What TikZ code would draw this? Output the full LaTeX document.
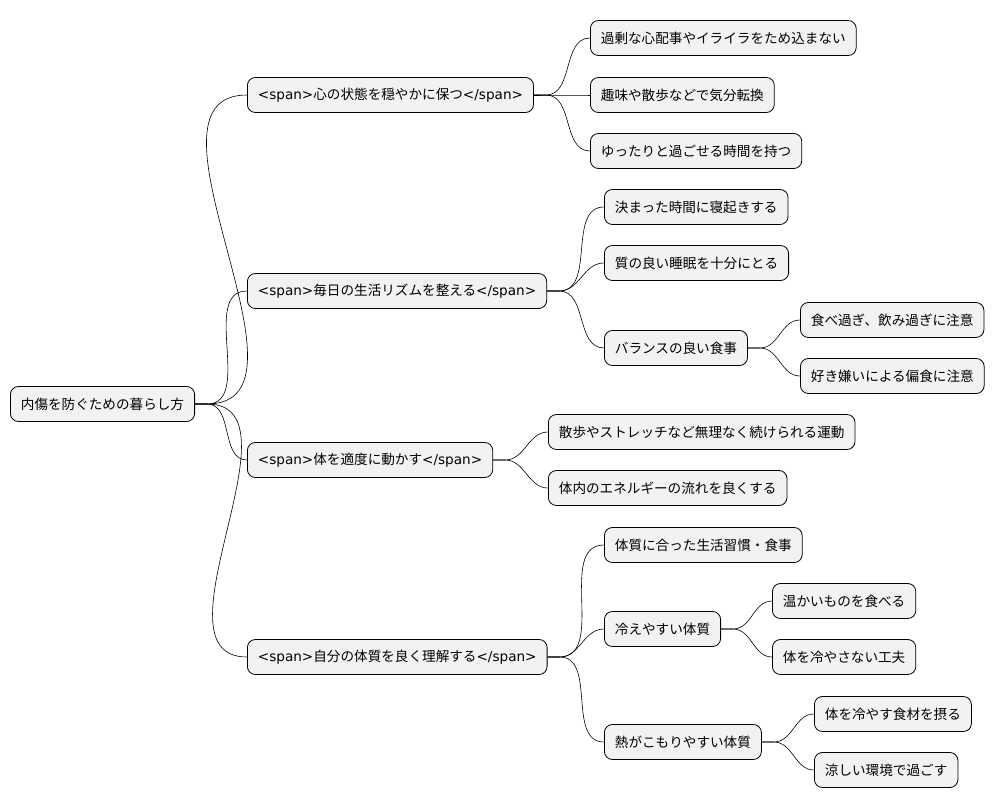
\documentclass[tikz,border=0pt]{standalone}
\usepackage{fontspec}
\setmainfont{Noto Sans CJK JP}
\newfontfamily\lat{DejaVu Sans}
\newcommand{\os}{{\lat <span>}}
\newcommand{\cs}{{\lat </span>}}
\begin{document}
\begin{tikzpicture}[x=1pt,y=-1pt,
  box/.style={draw=black,line width=0.8pt,fill=black!5,rounded corners=8pt,minimum height=35pt,inner xsep=10.5pt,anchor=west,font=\fontsize{13.6}{15}\selectfont},
  edge/.style={draw=black,line width=0.6pt}]
\useasboundingbox (0,0) rectangle (999,809);
\node[box] (r) at (10,404) {内傷を防ぐための暮らし方};
\node[box] (a) at (247,95) {\os{}心の状態を穏やかに保つ\cs{}};
\node[box] (b) at (247,291) {\os{}毎日の生活リズムを整える\cs{}};
\node[box] (c) at (247,460) {\os{}体を適度に動かす\cs{}};
\node[box] (d) at (247,657) {\os{}自分の体質を良く理解する\cs{}};
\node[box] (a1) at (590,38) {過剰な心配事やイライラをため込まない};
\node[box] (a2) at (590,95) {趣味や散歩などで気分転換};
\node[box] (a3) at (590,151) {ゆったりと過ごせる時間を持つ};
\node[box] (b1) at (604,207) {決まった時間に寝起きする};
\node[box] (b2) at (604,263) {質の良い睡眠を十分にとる};
\node[box] (b3) at (604,348) {バランスの良い食事};
\node[box] (b31) at (800,320) {食べ過ぎ、飲み過ぎに注意};
\node[box] (b32) at (800,376) {好き嫌いによる偏食に注意};
\node[box] (c1) at (548,432) {散歩やストレッチなど無理なく続けられる運動};
\node[box] (c2) at (548,488) {体内のエネルギーの流れを良くする};
\node[box] (d1) at (604,545) {体質に合った生活習慣・食事};
\node[box] (d2) at (604,629) {冷えやすい体質};
\node[box] (d21) at (772,601) {温かいものを食べる};
\node[box] (d22) at (772,657) {体を冷やさない工夫};
\node[box] (d3) at (604,742) {熱がこもりやすい体質};
\node[box] (d31) at (814,714) {体を冷やす食材を摂る};
\node[box] (d32) at (814,770) {涼しい環境で過ごす};
\foreach \p/\c in {r/a,r/b,r/c,r/d,a/a1,a/a2,a/a3,b/b1,b/b2,b/b3,b3/b31,b3/b32,c/c1,c/c2,d/d1,d/d2,d/d3,d2/d21,d2/d22,d3/d31,d3/d32}
  \draw[edge] (\p.east) -- ++(12,0) to[out=0,in=180] (\c.west);
\end{tikzpicture}
\end{document}
